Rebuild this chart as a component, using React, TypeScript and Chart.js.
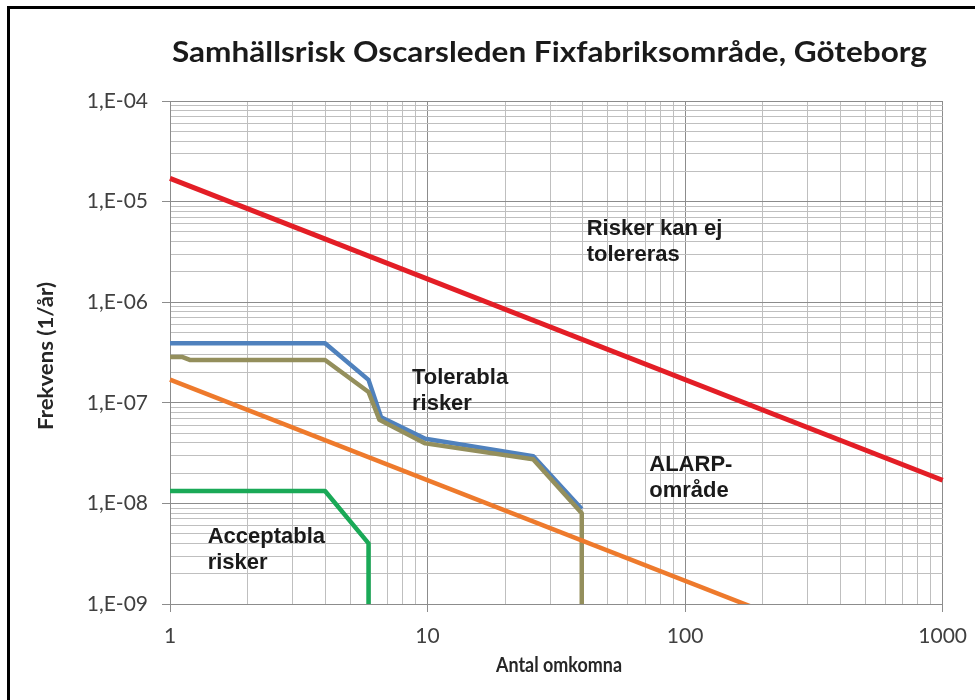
import React, { useEffect, useRef } from "react";
import { Chart, registerables } from "chart.js";

Chart.register(...registerables);

// ---------- text ----------
const TITLE = "Samhällsrisk Oscarsleden Fixfabriksområde, Göteborg";
const X_TITLE = "Antal omkomna";
const Y_TITLE = "Frekvens (1/år)";

// ---------- axes ----------
const xTickValues = [1, 10, 100, 1000];
const xTickLabels = ["1", "10", "100", "1000"];
const yTickValues = [1e-9, 1e-8, 1e-7, 1e-6, 1e-5, 1e-4];
const yTickLabels = ["1,E-09", "1,E-08", "1,E-07", "1,E-06", "1,E-05", "1,E-04"];

// ---------- series ----------
// Upper criterion (red)
const upperX = [1, 1000];
const upperY = [1.7e-5, 1.7e-8];
// Lower criterion (orange)
const lowerX = [1, 1000];
const lowerY = [1.7e-7, 1.7e-10];
// Blue F/N curve
const blueX = [1, 4, 5.9, 6.6, 9.8, 25.7, 39.7];
const blueY = [3.9e-7, 3.9e-7, 1.69e-7, 7.2e-8, 4.4e-8, 2.95e-8, 8.8e-9];
// Olive F/N curve
const oliveX = [1, 1.12, 1.2, 4, 5.9, 6.5, 9.8, 25.7, 39.7, 39.7];
const oliveY = [2.85e-7, 2.85e-7, 2.66e-7, 2.66e-7, 1.28e-7, 6.8e-8, 3.95e-8, 2.75e-8, 8e-9, 1e-9];
// Green F/N curve
const greenX = [1, 4, 5.9, 5.9];
const greenY = [1.33e-8, 1.33e-8, 4e-9, 1e-9];

// ---------- region labels ----------
const regionLines = [
  ["Risker kan ej", "tolereras"],
  ["Tolerabla", "risker"],
  ["ALARP-", "område"],
  ["Acceptabla", "risker"],
];
const regionX = [41.5, 8.7, 72.6, 1.4];
const regionY = [4.7e-6, 1.55e-7, 2.1e-8, 4.0e-9];

const pts = (xs: number[], ys: number[]) => xs.map((x, i) => ({ x, y: ys[i] }));

const isMajor = (v: number) => {
  if (!(v > 0)) return false;
  const l = Math.log10(v);
  return Math.abs(l - Math.round(l)) < 1e-6;
};

const labelFor = (v: number, values: number[], labels: string[]) => {
  for (let i = 0; i < values.length; i++) {
    if (Math.abs(Math.log10(v) - Math.log10(values[i])) < 1e-6) return labels[i];
  }
  return "";
};

function logTicks(minExp: number, maxExp: number) {
  const out: { value: number; major: boolean }[] = [];
  for (let e = minExp; e < maxExp; e++) {
    for (let m = 1; m < 10; m++) {
      out.push({ value: Number((m * Math.pow(10, e)).toPrecision(12)), major: m === 1 });
    }
  }
  out.push({ value: Number(Math.pow(10, maxExp).toPrecision(12)), major: true });
  return out;
}

// draw text at given font size, horizontally scaled so that it spans targetWidth
function drawFitted(
  ctx: CanvasRenderingContext2D,
  text: string,
  font: string,
  targetWidth: number,
  x: number,
  y: number,
  rotate = 0
) {
  ctx.save();
  ctx.font = font;
  const w = ctx.measureText(text).width;
  ctx.translate(x, y);
  if (rotate) ctx.rotate(rotate);
  ctx.scale(targetWidth / w, 1);
  ctx.textAlign = "center";
  ctx.fillText(text, 0, 0);
  ctx.restore();
}

const textPlugin = {
  id: "texts",
  afterDraw(chart: any) {
    const ctx: CanvasRenderingContext2D = chart.ctx;
    const xs = chart.scales.x;
    const ys = chart.scales.y;
    ctx.save();
    ctx.fillStyle = "#1a1a1a";
    ctx.textBaseline = "alphabetic";

    // Title
    drawFitted(ctx, TITLE, "bold 29px Lato", 755, 549.5, 62);

    // Axis titles
    ctx.fillStyle = "#262626";
    drawFitted(ctx, X_TITLE, "bold 20px Lato", 126, 559, 672);
    drawFitted(ctx, Y_TITLE, "bold 20px Lato", 148, 53, 356, -Math.PI / 2);

    // Region labels
    ctx.fillStyle = "#1a1a1a";
    ctx.textAlign = "left";
    ctx.textBaseline = "alphabetic";
    ctx.font = `bold 22px "Liberation Sans", Arial, sans-serif`;
    regionLines.forEach((lines, i) => {
      const px = xs.getPixelForValue(regionX[i]);
      const py = ys.getPixelForValue(regionY[i]);
      lines.forEach((t, j) => ctx.fillText(t, px, py + j * 26));
    });
    ctx.restore();
  },
};

export default function App() {
  const ref = useRef<HTMLCanvasElement>(null);

  useEffect(() => {
    const canvas = ref.current;
    if (!canvas) return;
    const lineDs = (label: string, data: any, color: string, order: number, width = 4.5) => ({
      label,
      data,
      borderColor: color,
      backgroundColor: color,
      borderWidth: width,
      pointRadius: 0,
      pointHoverRadius: 0,
      tension: 0,
      fill: false,
      order,
      borderJoinStyle: "round" as const,
      borderCapStyle: "butt" as const,
      clip: { left: 3, right: 3, top: 0, bottom: 0 },
    });

    const gridColor = (ctx: any) => (ctx.tick && isMajor(ctx.tick.value) ? "#8c8c8c" : "#bfbfbf");
    const tickColor = (ctx: any) => (ctx.tick && isMajor(ctx.tick.value) ? "#8c8c8c" : "rgba(0,0,0,0)");

    const chart = new Chart(canvas, {
      type: "line",
      data: {
        datasets: [
          lineDs("Olive", pts(oliveX, oliveY), "#948f5c", 1),
          lineDs("Blue", pts(blueX, blueY), "#4f81bd", 2),
          lineDs("Green", pts(greenX, greenY), "#1aa957", 3),
          lineDs("Orange", pts(lowerX, lowerY), "#ee7a2c", 0),
          lineDs("Red", pts(upperX, upperY), "#e31e26", 4, 5),
        ],
      },
      options: {
        responsive: false,
        devicePixelRatio: 1,
        animation: false,
        events: [],
        layout: { padding: { top: 101, right: 32, left: 0, bottom: 0 } },
        plugins: {
          legend: { display: false },
          tooltip: { enabled: false },
          title: { display: false },
        },
        scales: {
          x: {
            type: "logarithmic",
            min: 1,
            max: 1000,
            afterBuildTicks: (scale: any) => {
              scale.ticks = logTicks(0, 3);
            },
            afterFit: (scale: any) => {
              scale.height = 96;
            },
            grid: { color: gridColor, tickColor, tickLength: 8, lineWidth: 1 },
            border: { color: "#8c8c8c", width: 1 },
            ticks: {
              autoSkip: false,
              maxRotation: 0,
              minRotation: 0,
              padding: 12,
              color: "#404040",
              font: { family: "Lato", size: 21 },
              callback: (v: any) => (isMajor(Number(v)) ? labelFor(Number(v), xTickValues, xTickLabels) : ""),
            },
          },
          y: {
            type: "logarithmic",
            min: 1e-9,
            max: 1e-4,
            afterBuildTicks: (scale: any) => {
              scale.ticks = logTicks(-9, -4);
            },
            afterFit: (scale: any) => {
              scale.width = 170;
            },
            grid: { color: gridColor, tickColor, tickLength: 8, lineWidth: 1 },
            border: { color: "#8c8c8c", width: 1 },
            ticks: {
              autoSkip: false,
              padding: 14,
              color: "#404040",
              font: { family: "Lato", size: 21 },
              callback: (v: any) => (isMajor(Number(v)) ? labelFor(Number(v), yTickValues, yTickLabels) : ""),
            },
          },
        },
      },
      plugins: [textPlugin],
    } as any);
    return () => chart.destroy();
  }, []);

  return (
    <div style={{ position: "fixed", left: 0, top: 0, width: 979, height: 700, background: "#fff", overflow: "hidden" }}>
      <div
        style={{
          position: "absolute",
          left: 7,
          top: 6,
          width: 965,
          height: 720,
          borderTop: "3px solid #000",
          borderLeft: "3px solid #000",
        }}
      />
      <canvas ref={ref} width={979} height={700} style={{ position: "absolute", left: 0, top: 0, width: 979, height: 700 }} />
    </div>
  );
}
